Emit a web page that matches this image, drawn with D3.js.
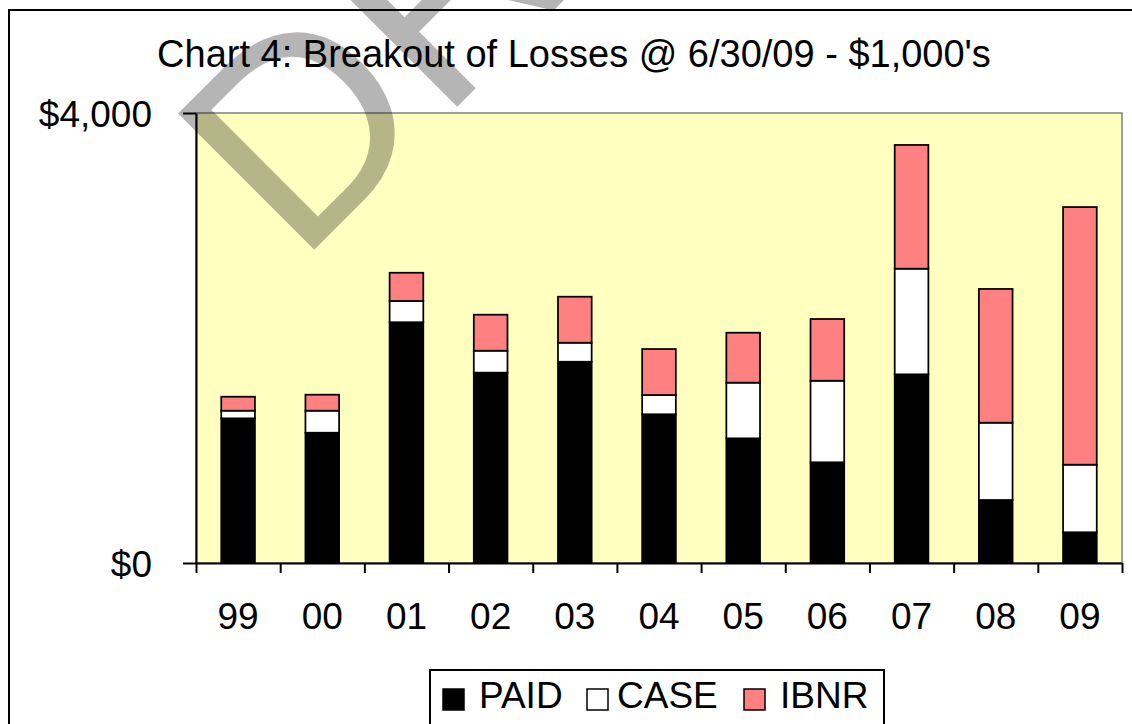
<!DOCTYPE html>
<html>
<head>
<meta charset="utf-8">
<script src="https://cdn.jsdelivr.net/npm/d3@7"></script>
<style>
  body { margin: 0; background: #fff; }
  svg { display: block; font-family: "Liberation Sans", Arial, sans-serif; }
</style>
</head>
<body>
<div id="chart"></div>
<script>
// Accident years and loss components ($1,000's)
var categories = ["99", "00", "01", "02", "03", "04", "05", "06", "07", "08", "09"];
var paid = [1286, 1158, 2140, 1692, 1789, 1322, 1108, 895, 1677, 560, 273];
var caseRes = [68, 196, 189, 195, 169, 171, 495, 725, 939, 687, 601];
var ibnr = [124, 142, 251, 320, 409, 409, 444, 549, 1100, 1189, 2290];
var seriesNames = ["PAID", "CASE", "IBNR"];
var yTicks = [0, 4000];

(function() {
  var width = 1132,
    height = 724;

  var svg = d3.select("#chart")
    .append("svg")
    .attr("width", width)
    .attr("height", height);

  // Outer chart border (runs off the page on right and bottom)
  svg.append("rect")
    .attr("x", 9).attr("y", 10)
    .attr("width", 1140).attr("height", 740)
    .attr("fill", "none")
    .attr("stroke", "#000")
    .attr("stroke-width", 2);

  // Plot area
  var plotLeft = 196, plotRight = 1122, plotTop = 113, plotBottom = 563;

  var x = d3.scaleBand()
    .domain(categories)
    .range([plotLeft, plotRight])
    .paddingInner(0.6)
    .paddingOuter(0.3);

  var y = d3.scaleLinear()
    .domain([0, 4000])
    .range([plotBottom, plotTop]);

  var color = d3.scaleOrdinal()
    .domain(seriesNames)
    .range(["#000000", "#ffffff", "#ff8080"]);

  svg.append("rect")
    .attr("x", plotLeft).attr("y", plotTop)
    .attr("width", plotRight - plotLeft).attr("height", plotBottom - plotTop)
    .attr("fill", "#ffffc0")
    .attr("stroke", "#808080")
    .attr("stroke-width", 1.5);

  // Title
  svg.append("text")
    .attr("x", 574)
    .attr("y", 67)
    .attr("text-anchor", "middle")
    .style("font-size", "38px")
    .text("Chart 4: Breakout of Losses @ 6/30/09 - $1,000's");

  // Stacked bars
  var rows = categories.map(function(c, i) {
    return { cat: c, PAID: paid[i], CASE: caseRes[i], IBNR: ibnr[i] };
  });
  var stacked = d3.stack().keys(seriesNames)(rows);

  svg.selectAll("g.layer")
    .data(stacked)
    .enter()
    .append("g")
    .attr("class", "layer")
    .attr("fill", function(d) { return color(d.key); })
    .selectAll("rect")
    .data(function(d) { return d; })
    .enter()
    .append("rect")
    .attr("x", function(d) { return x(d.data.cat); })
    .attr("y", function(d) { return y(d[1]); })
    .attr("width", x.bandwidth())
    .attr("height", function(d) { return y(d[0]) - y(d[1]); })
    .attr("stroke", "#000")
    .attr("stroke-width", 1.75);

  // Y axis
  var yAxis = svg.append("g")
    .attr("transform", "translate(" + plotLeft + ",0)")
    .call(d3.axisLeft(y)
      .tickValues(yTicks)
      .tickSize(13)
      .tickSizeOuter(0)
      .tickPadding(31)
      .tickFormat(function(d) { return "$" + d3.format(",")(d); }));
  yAxis.select(".domain").attr("stroke-width", 2);
  yAxis.selectAll(".tick line").attr("stroke-width", 2);
  yAxis.selectAll("text")
    .attr("dy", null)
    .attr("y", 13)
    .style("font-family", "inherit")
    .style("font-size", "37px");

  // X axis: boundary ticks
  var xEdges = d3.scaleLinear().domain([0, categories.length]).range([plotLeft, plotRight]);
  var xTicks = svg.append("g")
    .attr("transform", "translate(0," + plotBottom + ")")
    .call(d3.axisBottom(xEdges)
      .tickValues(d3.range(categories.length + 1))
      .tickSize(10)
      .tickSizeOuter(0)
      .tickFormat(""));
  xTicks.select(".domain").attr("stroke-width", 2);
  xTicks.selectAll(".tick line").attr("stroke-width", 2);

  // X axis: category labels
  var xLabels = svg.append("g")
    .attr("transform", "translate(0," + plotBottom + ")")
    .call(d3.axisBottom(x).tickSize(0));
  xLabels.select(".domain").remove();
  xLabels.selectAll("text")
    .attr("dy", null)
    .attr("y", 66)
    .style("font-family", "inherit")
    .style("font-size", "37px");

  // Legend
  var legend = svg.append("g");
  legend.append("rect")
    .attr("x", 430).attr("y", 670)
    .attr("width", 454).attr("height", 70)
    .attr("fill", "#fff")
    .attr("stroke", "#000")
    .attr("stroke-width", 2);

  var legendSwatchX = [443, 587, 744];
  var legendTextX = [479, 617, 780];
  var items = legend.selectAll("g.item")
    .data(seriesNames)
    .enter()
    .append("g")
    .attr("class", "item");
  items.append("rect")
    .attr("x", function(d, i) { return legendSwatchX[i]; })
    .attr("y", 689)
    .attr("width", 21).attr("height", 21)
    .attr("fill", function(d) { return color(d); })
    .attr("stroke", "#000")
    .attr("stroke-width", 1.5);
  items.append("text")
    .attr("x", function(d, i) { return legendTextX[i]; })
    .attr("y", 708)
    .style("font-size", "37px")
    .text(function(d) { return d; });

  // DRAFT watermark
  svg.append("text")
    .attr("transform", "translate(298,266) rotate(-45)")
    .style("font-size", "280px")
    .attr("fill", "#000")
    .attr("fill-opacity", 0.29)
    .text("DRAFT");
})();
</script>
</body>
</html>
